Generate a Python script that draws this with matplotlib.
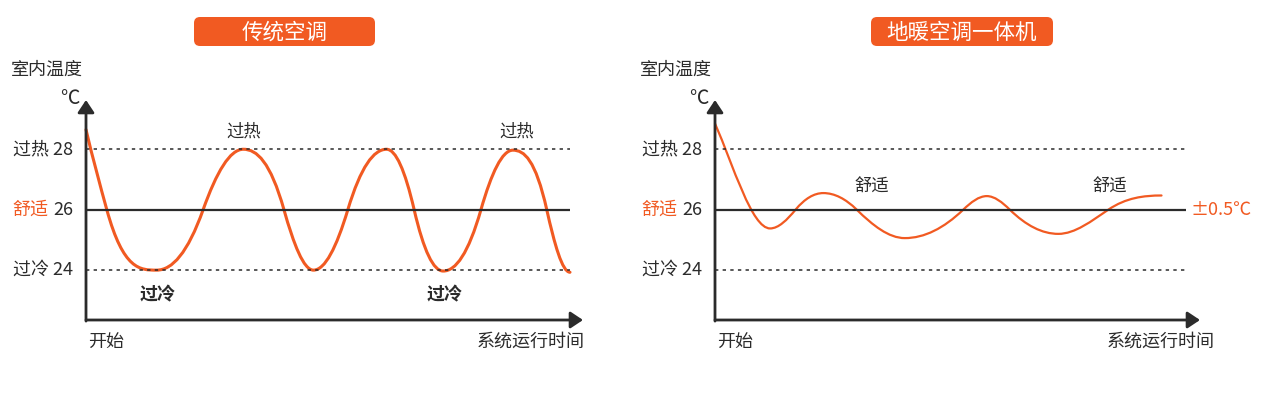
import numpy as np
import matplotlib
matplotlib.use("Agg")
import matplotlib.pyplot as plt
from matplotlib.path import Path
from matplotlib.patches import PathPatch, FancyBboxPatch
from matplotlib.transforms import blended_transform_factory, offset_copy

plt.rcParams['font.family'] = ['Noto Sans CJK SC', 'DejaVu Sans']

# ---------------- data ----------------
panel_titles = ["传统空调", "地暖空调一体机"]
y_label = "室内温度"
y_unit = "℃"
x_start_label = "开始"
x_end_label = "系统运行时间"
ref_temps = [28, 26, 24]
ref_names = ["过热", "舒适", "过冷"]

# traditional AC: key points (time, temperature)
trad_time = [0, 4.3, 14.6, 24.2, 32.5, 40.9, 47.0, 54.1, 62.1, 67.8, 73.8, 81.6, 88.2, 95.2, 100]
trad_temp = [28.65, 26, 24, 26, 28, 26, 24, 26, 28, 26, 23.97, 26, 27.97, 26, 23.93]
trad_hot_labels_t = [32.6, 89.0]
trad_cold_labels_t = [14.7, 74.0]

# floor heating + AC: key points (time, temperature)
floor_time = [0, 11.7, 17.1, 23.0, 30.1, 40.3, 52.7, 57.7, 62.6, 72.9, 83.5, 94.8]
floor_temp = [28.85, 25.38, 26, 26.55, 26, 25.06, 26, 26.45, 26, 25.2, 26, 26.47]
floor_comfort_labels_t = [33.3, 83.9]
tolerance_label = "±0.5℃"

# ---------------- style ----------------
ORANGE = "#F15A22"
DARK = "#2b2b2b"
W, H = 1269, 394
DPI = 100

fig = plt.figure(figsize=(W / DPI, H / DPI), dpi=DPI)
fig.patch.set_facecolor("white")

YLIM = (22.35, 29.63)


def px_axes(x0, x1, y_top, y_bot):
    return fig.add_axes([x0 / W, 1 - y_bot / H, (x1 - x0) / W, (y_bot - y_top) / H])


def figtext_px(x, y, s, **kw):
    fig.text(x / W, 1 - y / H, s, **kw)


def smooth_path(x, y, k=1.5, start_k=1.2):
    x = np.asarray(x, float)
    y = np.asarray(y, float)
    d = np.diff(y) / np.diff(x)
    m = np.zeros_like(x)
    for i in range(1, len(x) - 1):
        if d[i - 1] * d[i] > 0:
            s = k * (d[i - 1] + d[i]) / 2
            lim = 3 * min(abs(d[i - 1]), abs(d[i]))
            m[i] = np.sign(s) * min(abs(s), lim)
    m[0] = start_k * d[0]
    m[-1] = 0.0
    verts = [(x[0], y[0])]
    codes = [Path.MOVETO]
    for i in range(len(x) - 1):
        dx = x[i + 1] - x[i]
        verts += [(x[i] + dx / 3, y[i] + m[i] * dx / 3),
                  (x[i + 1] - dx / 3, y[i + 1] - m[i + 1] * dx / 3),
                  (x[i + 1], y[i + 1])]
        codes += [Path.CURVE4] * 3
    return Path(verts, codes)


def setup_panel(ax, xmax, line_end=100):
    ax.set_xlim(0, xmax)
    ax.set_ylim(*YLIM)
    ax.axis("off")
    # axes with arrows
    ax.annotate("", xy=(1, 0), xytext=(0, 0), xycoords="axes fraction",
                arrowprops=dict(arrowstyle="-|>,head_length=0.75,head_width=0.5",
                                lw=2.0, color=DARK, shrinkA=0, shrinkB=0),
                annotation_clip=False)
    ax.annotate("", xy=(0, 1), xytext=(0, -0.005), xycoords="axes fraction",
                arrowprops=dict(arrowstyle="-|>,head_length=0.75,head_width=0.5",
                                lw=2.0, color=DARK, shrinkA=0, shrinkB=0),
                annotation_clip=False)
    # reference lines
    ax.plot([0, line_end], [ref_temps[0]] * 2, color=DARK, lw=1.1,
            linestyle=(0, (2.2, 2.8)), clip_on=False)
    ax.plot([0, line_end], [ref_temps[2]] * 2, color=DARK, lw=1.1,
            linestyle=(0, (2.2, 2.8)), clip_on=False)
    ax.plot([0, line_end], [ref_temps[1]] * 2, color=DARK, lw=1.6,
            solid_capstyle="butt", clip_on=False)
    # tick labels
    blend = blended_transform_factory(ax.transAxes, ax.transData)
    tr_num = offset_copy(blend, fig=fig, x=-13, y=0, units="dots")
    tr_name = offset_copy(blend, fig=fig, x=-38, y=0, units="dots")
    for t, name in zip(ref_temps, ref_names):
        if name == "舒适":
            ax.text(0, t, f"{t}", transform=tr_num, ha="right", va="center",
                    fontsize=13, color=DARK)
            ax.text(0, t, name, transform=tr_name, ha="right", va="center",
                    fontsize=13, color=ORANGE)
        else:
            ax.text(0, t, f"{name} {t}", transform=tr_num, ha="right",
                    va="center", fontsize=13, color=DARK)


def title_box(x0, x1, text):
    y0, y1 = 17, 46
    box = FancyBboxPatch((x0 / DPI, (H - y1) / DPI), (x1 - x0) / DPI, (y1 - y0) / DPI,
                         boxstyle="round,pad=0,rounding_size=0.06",
                         transform=fig.dpi_scale_trans, facecolor=ORANGE,
                         edgecolor="none")
    fig.patches.append(box)
    figtext_px((x0 + x1) / 2, (y0 + y1) / 2 + 1, text, ha="center", va="center",
               fontsize=15.5, color="white")


# ---------------- left panel ----------------
axL = px_axes(86, 583, 100, 320)
setup_panel(axL, (583 - 86) / 4.84)
axL.add_patch(PathPatch(smooth_path(trad_time, trad_temp, k=2.0, start_k=1.1), fill=False,
                        edgecolor=ORANGE, lw=2.2, clip_on=False,
                        capstyle="round", joinstyle="round"))
for t in trad_hot_labels_t:
    axL.text(t, 28.6, ref_names[0], ha="center", va="center", fontsize=12.5, color=DARK)
for t in trad_cold_labels_t:
    axL.text(t, 23.17, ref_names[2], ha="center", va="center", fontsize=13,
             color=DARK, fontweight="bold")

# ---------------- right panel ----------------
axR = px_axes(715, 1200, 100, 320)
setup_panel(axR, (1200 - 715) / 4.71)
axR.add_patch(PathPatch(smooth_path(floor_time, floor_temp, k=1.8, start_k=1.2), fill=False,
                        edgecolor=ORANGE, lw=1.6, clip_on=False,
                        capstyle="round", joinstyle="round"))
for t in floor_comfort_labels_t:
    axR.text(t, 26.77, ref_names[1], ha="center", va="center", fontsize=12.5, color=DARK)
axR.text(100.9, 26, tolerance_label, ha="left", va="center", fontsize=13,
         color=ORANGE, clip_on=False)

# ---------------- other texts ----------------
for yax_x, left_txt_x, unit_x, start_x, end_x in [(86, 11, 70, 88, 585),
                                                  (715, 640, 699, 717, 1215)]:
    figtext_px(left_txt_x, 70, y_label, ha="left", va="center", fontsize=13, color=DARK)
    figtext_px(unit_x, 98, y_unit, ha="center", va="center", fontsize=14, color=DARK)
    figtext_px(start_x, 342, x_start_label, ha="left", va="center", fontsize=13, color=DARK)
    figtext_px(end_x, 342, x_end_label, ha="right", va="center", fontsize=13, color=DARK)

title_box(194, 375, panel_titles[0])
title_box(871, 1053, panel_titles[1])

fig.savefig("out.png", dpi=DPI)
